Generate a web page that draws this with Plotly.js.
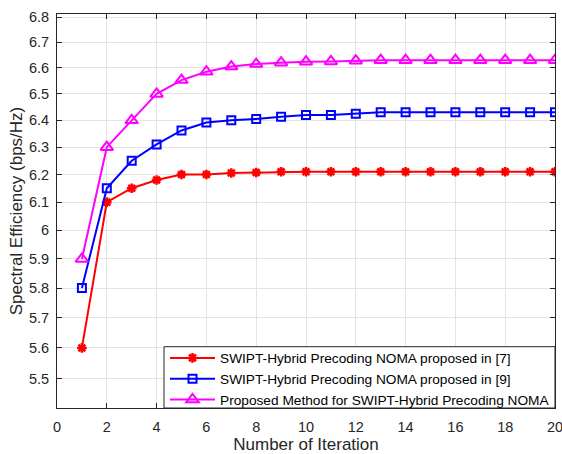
<!DOCTYPE html>
<html>
<head>
<meta charset="utf-8">
<script src="https://cdn.plot.ly/plotly-3.0.1.min.js"></script>
<style>html,body{margin:0;padding:0;background:#fff;}#chart{width:562px;height:454px;}</style>
</head>
<body>
<div id="chart"></div>
<script>
const iterations = [1,2,3,4,5,6,7,8,9,10,11,12,13,14,15,16,17,18,19,20];
const seriesNames = [
  "SWIPT-Hybrid Precoding NOMA proposed in [7]",
  "SWIPT-Hybrid Precoding NOMA proposed in [9]",
  "Proposed Method for SWIPT-Hybrid Precoding NOMA"
];
const ref7 = [5.6,6.1,6.15,6.18,6.2,6.2,6.205,6.207,6.21,6.21,6.21,6.21,6.21,6.21,6.21,6.21,6.21,6.21,6.21,6.21];
const ref9 = [5.8,6.15,6.25,6.31,6.362,6.392,6.4,6.405,6.413,6.42,6.42,6.425,6.43,6.43,6.43,6.43,6.43,6.43,6.43,6.43];
const proposed = [5.9,6.3,6.4,6.5,6.553,6.585,6.605,6.615,6.62,6.624,6.625,6.628,6.63,6.63,6.63,6.63,6.63,6.63,6.63,6.63];
const xTicks = [0,2,4,6,8,10,12,14,16,18,20];
const yTicks = [5.5,5.6,5.7,5.8,5.9,6.0,6.1,6.2,6.3,6.4,6.5,6.6,6.7,6.8];
const yTickText = ["5.5","5.6","5.7","5.8","5.9","6","6.1","6.2","6.3","6.4","6.5","6.6","6.7","6.8"];

const font = "Liberation Sans, Arial, sans-serif";
const traces = [
  {x: iterations, y: ref7, name: seriesNames[0], type: "scatter", mode: "lines+markers",
   line: {color: "#ff0000", width: 2},
   marker: {symbol: "asterisk-open", size: 8, color: "#ff0000", line: {color: "#ff0000", width: 2.5}}},
  {x: iterations, y: ref9, name: seriesNames[1], type: "scatter", mode: "lines+markers",
   line: {color: "#0000ff", width: 2},
   marker: {symbol: "square-open", size: 8, color: "#0000ff", line: {color: "#0000ff", width: 2}}},
  {x: iterations, y: proposed, name: seriesNames[2], type: "scatter", mode: "lines+markers",
   line: {color: "#ff00ff", width: 2},
   marker: {symbol: "triangle-up-open", size: 11, color: "#ff00ff", line: {color: "#ff00ff", width: 2}}}
];

const layout = {
  width: 562, height: 454,
  margin: {l: 57, r: 7, t: 14, b: 46, pad: 0},
  paper_bgcolor: "#fff", plot_bgcolor: "#fff",
  font: {family: font, size: 14.5, color: "#262626"},
  showlegend: true,
  legend: {x: 1, y: -0.019, xanchor: "right", yanchor: "bottom",
    bgcolor: "rgba(0,0,0,0)", borderwidth: 0, itemwidth: 45,
    font: {family: font, size: 13.7, color: "#000"}, tracegroupgap: 0},
  shapes: [{type: "rect", xref: "paper", yref: "paper", x0: 0.2149, x1: 1, y0: 0, y1: 0.1556,
    fillcolor: "#fff", line: {color: "#262626", width: 1}, layer: "above"}],
  xaxis: {range: [0, 20], tickvals: xTicks, ticks: "inside", ticklen: 5, tickcolor: "#262626",
    showline: true, linecolor: "#262626", linewidth: 1, mirror: "ticks",
    showgrid: true, gridcolor: "#e3e3e3", zeroline: false, ticklabeloverflow: "allow",
    ticklabelstandoff: 6,
    tickfont: {family: font, size: 14.5, color: "#262626"},
    title: {text: "Number of Iteration", font: {family: font, size: 17, color: "#262626"}, standoff: 7}},
  yaxis: {type: "log", range: [Math.log10(5.406), Math.log10(6.812)],
    tickvals: yTicks, ticktext: yTickText, ticks: "inside", ticklen: 5, tickcolor: "#262626",
    showline: true, linecolor: "#262626", linewidth: 1, mirror: "ticks",
    showgrid: true, gridcolor: "#e3e3e3", zeroline: false, ticklabeloverflow: "allow",
    ticklabelstandoff: 4,
    tickfont: {family: font, size: 14.5, color: "#262626"},
    title: {text: "Spectral Efficiency (bps/Hz)", font: {family: font, size: 17, color: "#262626"}, standoff: 1}}
};
Plotly.newPlot("chart", traces, layout, {displayModeBar: false, staticPlot: true});
</script>
</body>
</html>
